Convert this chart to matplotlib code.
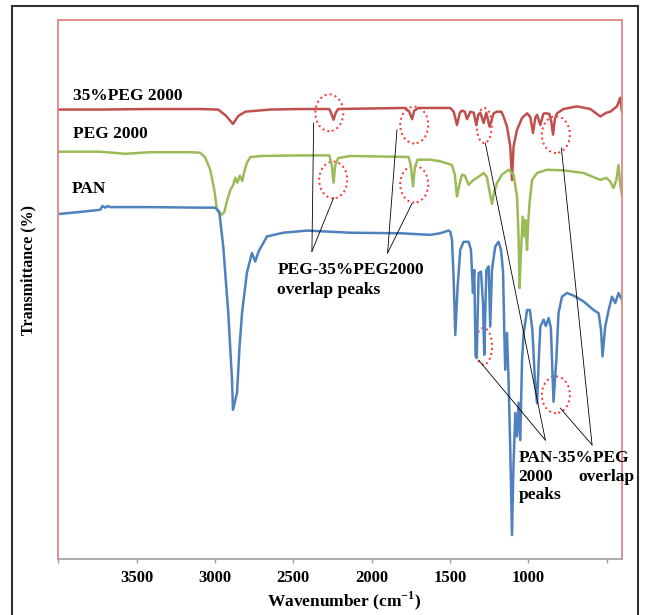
import matplotlib
matplotlib.use("Agg")
import matplotlib.pyplot as plt
from matplotlib.patches import Ellipse, Rectangle

plt.rcParams['font.family'] = ['Liberation Serif', 'DejaVu Serif']
plt.rcParams['font.weight'] = 'bold'
plt.rcParams['mathtext.fontset'] = 'custom'
plt.rcParams['mathtext.rm'] = 'Liberation Serif:bold'
plt.rcParams['mathtext.bf'] = 'Liberation Serif:bold'

# 35%PEG 2000 (red)
blend_wn = [4000, 3732, 3413, 3094, 2979, 2928, 2885, 2851, 2806, 2647, 2455, 2270, 2257, 2243,
            2229, 2213, 2009, 1785, 1760, 1742, 1728, 1702, 1498, 1476, 1455, 1437, 1423, 1405,
            1391, 1370, 1348, 1332, 1319, 1306, 1285, 1268, 1247, 1221, 1200, 1172, 1158, 1136,
            1115, 1104, 1094, 1072, 1040, 1008, 987, 970, 955, 944, 923, 904, 891, 866, 853,
            842, 831, 817, 775, 689, 604, 540, 502, 477, 434, 413, 402]
blend_t = [84.1, 84.1, 84.2, 84.2, 84.1, 82.9, 81.4, 82.9, 83.7, 84.1, 84.2, 84.2, 83.3, 82.2,
           83.5, 84.2, 84.3, 84.4, 83.7, 82.3, 83.9, 84.4, 84.4, 83.7, 81.2, 83.5, 83.9, 83.7,
           82.3, 83.7, 83.5, 81.2, 83.1, 83.5, 81.6, 83.5, 80.9, 83.4, 83.7, 83.7, 82.8, 80.9,
           77.2, 70.9, 77.2, 80.3, 82.5, 83.4, 82.7, 79.7, 82.6, 83.1, 81.2, 83.3, 83.4, 83.3,
           81.8, 79.4, 82.2, 83.4, 84.2, 84.7, 84.2, 82.8, 83.5, 83.7, 84.7, 86.3, 83.7]

# PEG 2000 (green)
peg_wn = [4000, 3732, 3572, 3413, 3157, 3094, 3062, 3030, 3004, 2987, 2972, 2955, 2940, 2921,
          2902, 2883, 2870, 2857, 2841, 2826, 2813, 2796, 2774, 2691, 2455, 2270, 2254, 2243,
          2232, 2213, 2136, 1764, 1750, 1736, 1724, 1707, 1626, 1562, 1487, 1469, 1455, 1440,
          1423, 1405, 1381, 1349, 1317, 1285, 1265, 1249, 1232, 1217, 1200, 1168, 1126, 1094,
          1072, 1062, 1056, 1047, 1036, 1026, 1019, 1008, 1002, 992, 976, 944, 881, 775, 647,
          540, 502, 477, 456, 438, 424, 413, 402]
peg_t = [76.2, 76.2, 75.8, 76.1, 76.1, 76.0, 75.1, 72.8, 69.0, 65.3, 64.7, 64.4, 64.9, 67.2,
         69.0, 70.0, 71.3, 70.4, 71.7, 70.7, 72.4, 74.1, 75.2, 75.4, 75.5, 75.5, 73.7, 70.4,
         73.7, 75.0, 75.4, 75.2, 73.7, 69.7, 73.2, 74.7, 74.7, 74.4, 73.7, 71.9, 67.8, 70.0,
         71.9, 71.7, 70.0, 70.9, 71.5, 72.2, 71.5, 69.0, 66.4, 68.7, 70.3, 71.9, 72.8, 71.9,
         67.8, 60.3, 50.6, 57.2, 64.0, 60.3, 63.4, 57.8, 62.2, 66.6, 70.9, 72.2, 72.8, 72.7,
         72.2, 70.9, 71.3, 70.6, 69.4, 70.9, 73.7, 70.0, 68.1]

# PAN (blue)
pan_wn = [4000, 3860, 3732, 3719, 3700, 3687, 3668, 3413, 3094, 2998, 2972, 2947, 2915, 2891,
          2885, 2877, 2859, 2843, 2827, 2796, 2764, 2743, 2721, 2668, 2564, 2413, 2136, 1817,
          1626, 1562, 1509, 1498, 1487, 1477, 1466, 1451, 1434, 1413, 1381, 1366, 1353, 1345,
          1336, 1329, 1317, 1302, 1289, 1281, 1268, 1253, 1243, 1232, 1211, 1190, 1174, 1161,
          1153, 1147, 1136, 1126, 1115, 1104, 1094, 1083, 1072, 1062, 1051, 1040, 1030, 1008,
          990, 974, 958, 944, 934, 923, 902, 888, 870, 856, 839, 821, 807, 785, 753, 711, 647,
          583, 551, 536, 526, 509, 487, 466, 445, 424, 402]
pan_t = [64.5, 64.9, 65.3, 66.0, 65.7, 66.0, 65.8, 65.8, 65.7, 65.7, 64.9, 58.4, 46.0, 33.4,
         27.8, 28.7, 31.0, 39.6, 46.0, 53.5, 57.2, 55.6, 57.5, 60.3, 61.0, 61.4, 61.0, 60.9,
         60.6, 60.9, 61.4, 61.2, 59.7, 52.8, 41.8, 50.9, 57.8, 59.3, 59.3, 57.8, 49.7, 54.0,
         37.8, 37.5, 53.4, 53.7, 47.8, 38.1, 54.0, 54.7, 43.4, 54.0, 58.4, 59.3, 57.8, 53.6,
         42.2, 35.3, 42.2, 33.4, 20.3, 4.3, 17.8, 27.2, 22.8, 29.1, 22.1, 37.1, 42.0, 46.5,
         46.5, 42.8, 33.4, 29.0, 36.5, 43.4, 44.7, 43.5, 45.0, 43.2, 29.3, 37.2, 45.9, 49.0,
         49.7, 49.2, 48.1, 46.5, 45.9, 42.8, 37.8, 43.4, 46.5, 49.0, 47.8, 49.7, 48.4]

xtick_pos = [4000, 3500, 3000, 2500, 2000, 1500, 1000, 500]
xtick_lbl = ['', '3500', '3000', '2500', '2000', '1500', '1000', '']

# dotted circles around overlapping peaks: (centre wn, centre T, width wn, height T)
circles = [(2270, 83.5, 179, 6.9), (2245, 70.9, 179, 6.9),
           (1728, 81.2, 179, 6.9), (1728, 70.1, 179, 6.9),
           (1281, 81.1, 96, 6.6), (824, 79.4, 179, 6.9),
           (1285, 39.7, 107, 6.9), (824, 30.6, 179, 6.9)]

# leader lines: (start wn, start T, end wn, end T)
leaders = [(2381, 57.5, 2370, 81.6), (2381, 57.5, 2243, 67.5),
           (1898, 57.2, 1838, 80.3), (1898, 57.2, 1742, 66.5),
           (891, 22.1, 1317, 37.1), (891, 22.1, 1274, 77.8),
           (593, 21.2, 796, 28.1), (593, 21.2, 789, 76.9)]

fig = plt.figure(figsize=(6.46, 6.15), dpi=100)
ax = fig.add_axes([0.0902, 0.0906, 0.8731, 0.8769])

ax.plot(blend_wn, blend_t, color='#c0504d', lw=1.8)
ax.plot(peg_wn, peg_t, color='#9bbb59', lw=1.8)
ax.plot(pan_wn, pan_t, color='#4f81bd', lw=1.8)

for x0, y0, x1, y1 in leaders:
    ax.plot([x0, x1], [y0, y1], color='black', lw=0.6)

for cx, cy, w, h in circles:
    ax.add_patch(Ellipse((cx, cy), w, h, fill=False, edgecolor='#ff3030', lw=1.4, ls=':'))

ax.set_xlim(4000, 400)
ax.set_ylim(-0.25, 100.9)
ax.set_xticks(xtick_pos)
ax.set_xticklabels(xtick_lbl, fontsize=12, fontweight='bold')
ax.set_yticks([])
ax.tick_params(axis='x', direction='out', length=3, width=1, color='#a0a0a0', pad=5)

for side in ['left', 'top', 'right']:
    ax.spines[side].set_color('#e08585')
    ax.spines[side].set_linewidth(1.3)
ax.spines['bottom'].set_color('#a6a6a6')
ax.spines['bottom'].set_linewidth(1.3)

ax.set_xlabel(r'Wavenumber (cm$^{\mathbf{-1}}$)', fontsize=12.5, fontweight='bold', va='center')
ax.xaxis.set_label_coords(0.507, -0.077)
ax.set_ylabel('Transmittance (%)', fontsize=11.5, fontweight='bold', va='center')
ax.yaxis.set_label_coords(-0.053, 0.536)

ax.text(3906, 86.7, '35%PEG 2000', fontsize=12.5, fontweight='bold', va='center')
ax.text(3906, 79.5, 'PEG 2000', fontsize=12.5, fontweight='bold', va='center')
ax.text(3913, 69.2, 'PAN', fontsize=12.5, fontweight='bold', va='center')

ax.text(2602, 54.0, 'PEG-35%PEG2000', fontsize=12.5, fontweight='bold', va='center')
ax.text(2602, 50.3, 'overlap peaks', fontsize=12.5, fontweight='bold', va='center')

ax.text(1064, 18.7, 'PAN-35%PEG', fontsize=12.5, fontweight='bold', va='center', clip_on=False)
ax.text(1064, 15.2, '2000', fontsize=12.5, fontweight='bold', va='center')
ax.text(681, 15.2, 'overlap', fontsize=12.5, fontweight='bold', va='center', clip_on=False)
ax.text(1064, 11.8, 'peaks', fontsize=12.5, fontweight='bold', va='center')

# outer frame of the picture
fig.patches.append(Rectangle((0.0181, -0.02), 0.9695, 1.0107, transform=fig.transFigure,
                             fill=False, edgecolor='#303030', lw=1.5))

plt.savefig('out.png', dpi=100)
